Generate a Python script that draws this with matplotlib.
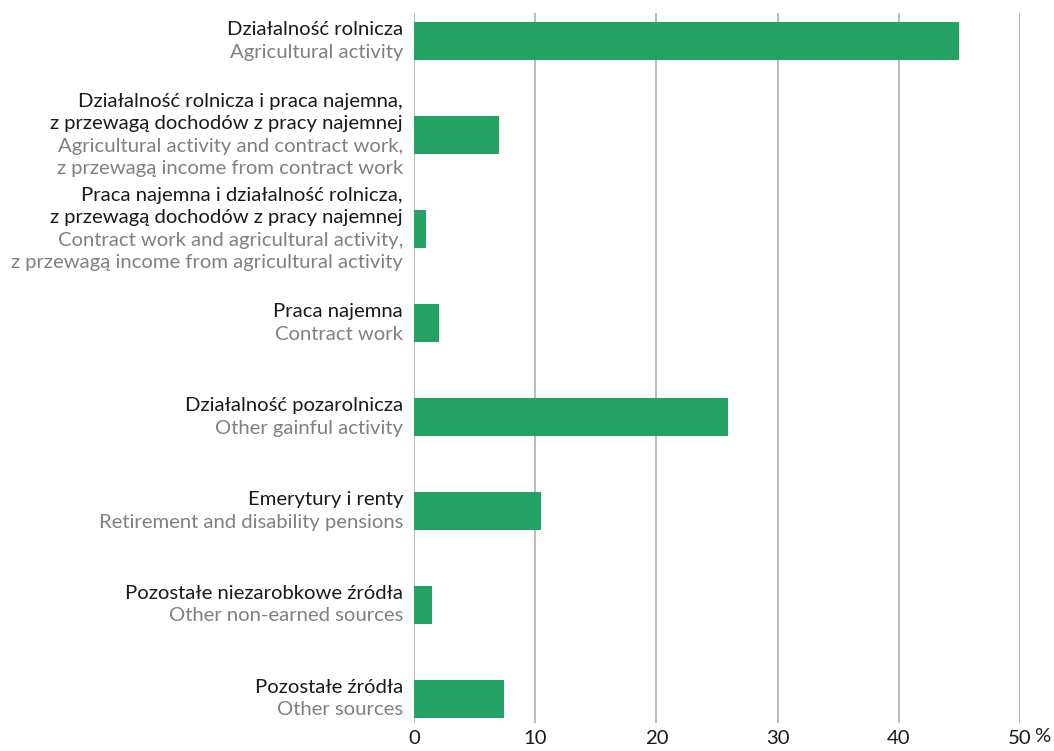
import matplotlib.pyplot as plt
from matplotlib.transforms import blended_transform_factory

# Dane
etykiety_pl = [
    "Działalność rolnicza",
    "Działalność rolnicza i praca najemna,\nz przewagą dochodów z pracy najemnej",
    "Praca najemna i działalność rolnicza,\nz przewagą dochodów z pracy najemnej",
    "Praca najemna",
    "Działalność pozarolnicza",
    "Emerytury i renty",
    "Pozostałe niezarobkowe źródła",
    "Pozostałe źródła",
]
etykiety_en = [
    "Agricultural activity",
    "Agricultural activity and contract work,\nz przewagą income from contract work",
    "Contract work and agricultural activity,\nz przewagą income from agricultural activity",
    "Contract work",
    "Other gainful activity",
    "Retirement and disability pensions",
    "Other non-earned sources",
    "Other sources",
]
udzialy = [45.0, 7.0, 1.0, 2.1, 25.9, 10.5, 1.5, 7.4]
ticks_x = [0, 10, 20, 30, 40, 50]

plt.rcParams['font.family'] = ['Lato', 'DejaVu Sans']
ROZMIAR = 14.6

fig = plt.figure(figsize=(10.54, 7.51), dpi=100)
W, H = 1054, 751
ax = fig.add_axes([414 / W, 1 - 723 / H, (1020 - 414) / W, (723 - 13) / H])

pos = list(range(len(udzialy)))
ax.barh(pos, udzialy, height=0.405, color="#24a264", zorder=3)

ax.set_xlim(0, 50)
ax.set_ylim(7.26, -0.3)
for t in ticks_x:
    ax.axvline(t, color="#a8a8a8", linewidth=1.1, zorder=1)

for s in ax.spines.values():
    s.set_visible(False)
ax.set_yticks([])
ax.set_xticks(ticks_x)
ax.set_xticklabels([str(t) for t in ticks_x], fontsize=ROZMIAR, color="#1a1a1a")
ax.tick_params(axis="x", length=0, pad=5)
# znak procentu obok ostatniej etykiety
ax.annotate("%", xy=(50, 0), xycoords=("data", "axes fraction"), xytext=(14, -5),
            textcoords="offset pixels", ha="left", va="top",
            fontsize=ROZMIAR, color="#1a1a1a")

# Etykiety dwujęzyczne
trans = blended_transform_factory(ax.transAxes, ax.transData)
odstep = 22.5
for i, (pl, en) in enumerate(zip(etykiety_pl, etykiety_en)):
    linie = [(l, "#1a1a1a") for l in pl.split("\n")] + [(l, "#808080") for l in en.split("\n")]
    n = len(linie)
    for j, (tekst, kolor) in enumerate(linie):
        off = ((n - 1) / 2 - j) * odstep
        ax.annotate(tekst, xy=(0, i), xycoords=trans, xytext=(-11, off),
                    textcoords="offset pixels", ha="right", va="center",
                    fontsize=ROZMIAR, color=kolor)

plt.savefig("out.png", dpi=100)
plt.close()
